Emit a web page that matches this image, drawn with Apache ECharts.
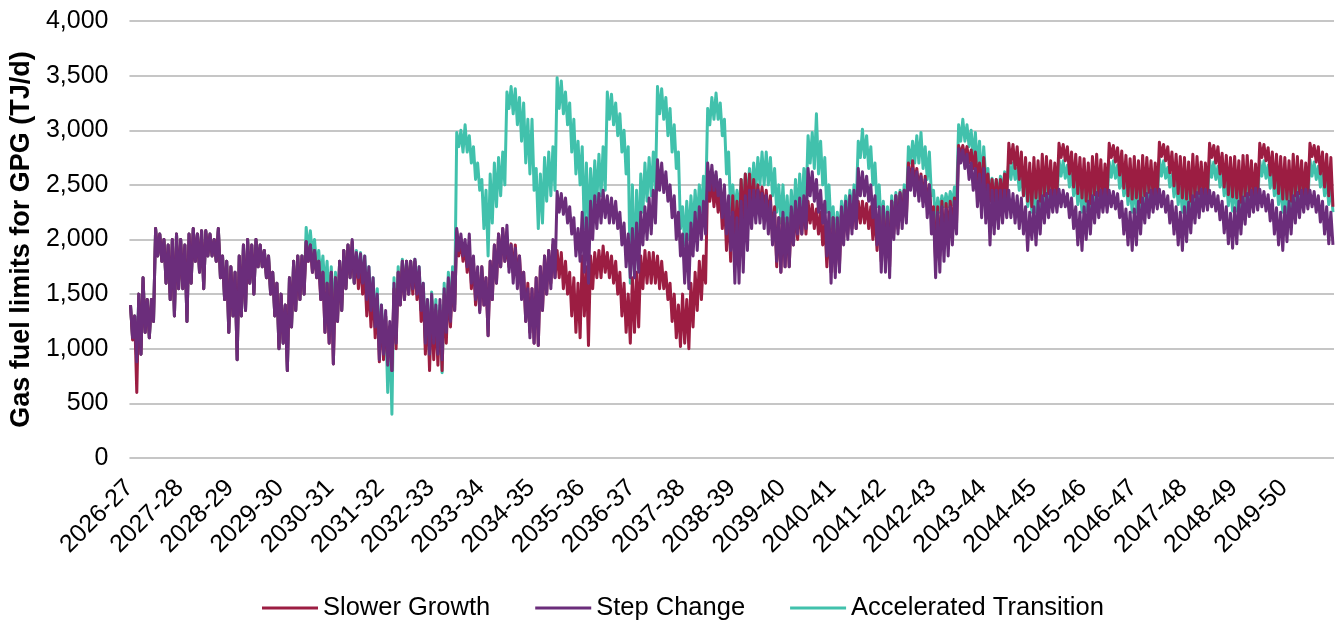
<!DOCTYPE html>
<html>
<head>
<meta charset="utf-8">
<script src="https://cdn.jsdelivr.net/npm/echarts@6/dist/echarts.min.js"></script>
<style>
  html, body { margin: 0; padding: 0; background: #ffffff; }
  #chart { width: 1341px; height: 621px; }
</style>
</head>
<body>
<div id="chart"></div>
<script>
// Financial-year tick labels (one per year, July to June)
const yearLabels = ['2026-27','2027-28','2028-29','2029-30','2030-31','2031-32','2032-33','2033-34',
  '2034-35','2035-36','2036-37','2037-38','2038-39','2039-40','2040-41','2041-42','2042-43','2043-44',
  '2044-45','2045-46','2046-47','2047-48','2048-49','2049-50'];

const seriesNames = ['Slower Growth', 'Step Change', 'Accelerated Transition'];

// Monthly upper / lower bounds of the daily gas fuel limits (TJ/d), 12 values per financial year.
const slowerHigh = [
  1400,1300,1500,1650,1450,1450,2100,2050,2000,1950,2000,2050,
  2000,1950,2050,2100,2050,2080,2080,2050,2000,2100,1850,1800,
  1750,1700,1850,1950,2000,1950,2000,1950,1900,1850,1700,1600,
  1500,1400,1650,1800,1850,1850,1980,1950,1900,1800,1700,1600,
  1700,1650,1800,1900,1950,1980,1850,1800,1700,1600,1550,1450,
  1350,1300,1200,1550,1700,1800,1800,1800,1800,1700,1550,1400,
  1450,1350,1350,1500,1600,1650,2080,2000,1950,1900,1800,1700,
  1750,1650,1800,1950,2050,2100,1950,1960,1950,1850,1700,1600,
  1550,1650,1750,1850,1900,1950,1900,1880,1800,1700,1650,1600,
  1850,1750,1850,1880,1900,1940,1880,1850,1800,1700,1600,1500,
  1650,1700,1850,1900,1880,1880,1850,1800,1700,1600,1500,1400,
  1500,1450,1600,1700,1800,1850,2570,2550,2500,2450,2400,2300,
  2400,2350,2550,2600,2600,2550,2500,2480,2450,2400,2300,2200,
  2200,2150,2250,2300,2300,2350,2350,2320,2280,2250,2150,2100,
  2200,2150,2250,2300,2330,2350,2350,2350,2330,2300,2250,2200,
  2300,2250,2350,2400,2430,2450,2700,2720,2650,2600,2580,2500,
  2300,2300,2350,2330,2350,2380,2860,2860,2850,2820,2800,2700,
  2750,2600,2550,2550,2550,2600,2880,2870,2850,2800,2750,2700,
  2750,2720,2780,2760,2720,2700,2880,2870,2850,2800,2780,2750,
  2740,2700,2760,2780,2730,2690,2880,2860,2840,2810,2770,2740,
  2760,2720,2770,2750,2720,2700,2890,2870,2850,2800,2780,2760,
  2750,2710,2780,2760,2710,2700,2880,2860,2850,2790,2770,2750,
  2760,2720,2770,2770,2720,2690,2880,2870,2840,2800,2780,2760,
  2750,2720,2780,2760,2720,2700,2880,2860,2850,2800,2780,2750
];
const slowerLow = [
  1080, 600, 950,1150,1100,1250,1850,1800,1600,1450,1300,1550,
  1550,1250,1600,1800,1700,1550,1850,1850,1800,1650,1450,1150,
  1300, 900,1300,1350,1600,1500,1750,1750,1650,1500,1300,1000,
  1050, 800,1200,1350,1450,1500,1800,1700,1650,1450,1150,1050,
   860,1250,1350,1550,1650,1600,1550,1500,1300,1200,1100, 880,
   900, 880, 800,1000,1400,1450,1500,1500,1450,1250, 950, 800,
   900, 850, 800,1050,1200,1350,1850,1800,1700,1550,1400,1350,
  1400,1120,1450,1600,1750,1800,1750,1700,1650,1500,1250,1150,
  1050,1030,1350,1500,1600,1650,1650,1550,1500,1300,1150,1100,
  1300,1030,1550,1650,1650,1700,1650,1600,1500,1300,1150,1050,
  1150,1200,1550,1600,1600,1600,1550,1550,1450,1250,1100,1020,
  1050,1000,1200,1350,1450,1600,2350,2300,2250,2100,1900,1800,
  1950,1900,2100,2200,2250,2250,2300,2250,2200,2000,1750,1700,
  1750,1750,1950,2000,2050,2050,2150,2100,2050,1950,1750,1700,
  1700,1750,2000,2050,2100,2100,2150,2150,2100,2000,1900,1800,
  1800,1750,2050,2100,2200,2200,2500,2500,2450,2350,2300,2200,
  1800,1850,1950,2050,2100,2150,2780,2750,2700,2650,2550,2450,
  2450,2350,2300,2300,2350,2350,2700,2650,2550,2400,2350,2300,
  2380,2350,2400,2420,2380,2400,2750,2720,2600,2480,2420,2380,
  2350,2330,2410,2400,2370,2390,2750,2710,2590,2470,2400,2370,
  2380,2340,2400,2430,2390,2400,2760,2720,2610,2490,2420,2380,
  2370,2350,2390,2420,2380,2410,2750,2700,2600,2480,2410,2390,
  2380,2340,2400,2410,2380,2400,2750,2720,2590,2470,2420,2370,
  2370,2350,2400,2420,2390,2400,2760,2710,2600,2480,2400,2300
];

const stepHigh = [
  1400,1300,1500,1650,1450,1450,2100,2050,2000,1950,2000,2050,
  2000,1950,2050,2100,2050,2080,2080,2050,2000,2100,1850,1800,
  1750,1700,1850,1950,2000,1950,2000,1950,1900,1850,1700,1600,
  1500,1400,1650,1800,1850,1850,1980,1950,1900,1800,1700,1600,
  1700,1650,1800,1900,1950,2000,1880,1870,1850,1750,1650,1500,
  1400,1350,1250,1600,1700,1800,1800,1800,1820,1750,1600,1450,
  1500,1400,1450,1550,1650,1700,2100,2050,2000,2050,1850,1750,
  1750,1650,1800,1950,2050,2100,2130,1950,1920,1850,1700,1550,
  1550,1650,1750,1850,1900,2000,2440,2420,2380,2300,2200,2100,
  2250,2200,2350,2400,2420,2450,2400,2380,2350,2250,2150,2050,
  2100,2150,2250,2300,2380,2450,2730,2700,2620,2500,2400,2250,
  2050,2050,2150,2250,2300,2350,2700,2680,2620,2550,2500,2400,
  2250,2200,2350,2400,2450,2450,2450,2420,2400,2350,2250,2200,
  2250,2200,2300,2350,2380,2400,2650,2620,2550,2450,2350,2250,
  2200,2200,2300,2350,2400,2450,2650,2620,2580,2500,2400,2300,
  2300,2250,2350,2400,2420,2450,2660,2650,2620,2580,2550,2500,
  2250,2250,2300,2280,2300,2350,2830,2820,2780,2700,2650,2600,
  2650,2500,2450,2450,2450,2450,2450,2420,2400,2380,2300,2250,
  2300,2350,2400,2420,2450,2450,2460,2450,2420,2380,2300,2250,
  2300,2350,2400,2430,2450,2460,2450,2440,2420,2350,2280,2250,
  2280,2350,2380,2420,2450,2460,2460,2440,2400,2350,2300,2250,
  2300,2340,2400,2430,2460,2460,2450,2430,2400,2350,2300,2240,
  2290,2350,2390,2420,2450,2470,2460,2440,2410,2360,2290,2250,
  2300,2350,2400,2430,2450,2460,2450,2440,2400,2350,2300,2250
];
const stepLow = [
  1100, 880, 950,1150,1100,1250,1850,1800,1600,1450,1300,1550,
  1550,1250,1600,1800,1700,1550,1850,1850,1800,1650,1450,1150,
  1300, 900,1300,1350,1600,1500,1750,1750,1650,1500,1300,1000,
  1050, 800,1200,1350,1450,1500,1800,1700,1650,1450,1150,1050,
   860,1250,1350,1550,1650,1600,1650,1600,1450,1350,1200, 900,
   950, 850, 800,1050,1400,1450,1500,1550,1500,1350,1050, 950,
  1050, 950, 900,1150,1250,1350,1900,1850,1750,1600,1450,1330,
  1400,1120,1450,1600,1750,1800,1700,1600,1550,1450,1250,1100,
  1050,1030,1350,1500,1550,1650,2250,2230,2150,2050,1850,1800,
  1700,1600,2000,2100,2150,2200,2150,2150,2100,1950,1750,1650,
  1650,1700,1950,2000,2050,2150,2450,2430,2350,2200,2000,1850,
  1600,1550,1850,1900,2000,2050,2450,2450,2400,2200,2050,1900,
  1600,1600,1700,1900,2100,2150,2150,2100,2050,1950,1800,1700,
  1750,1750,1950,2050,2050,2100,2400,2350,2250,2150,1850,1600,
  1650,1700,1950,2000,2050,2100,2400,2400,2350,2200,1950,1700,
  1700,1650,2000,2050,2100,2150,2450,2400,2350,2300,2200,2050,
  1650,1700,1800,1850,1950,2050,2700,2650,2550,2450,2300,2200,
  2150,1950,2050,2100,2150,2200,2200,2150,2100,2050,1900,2000,
  1950,2050,2150,2200,2250,2250,2300,2300,2200,2100,1950,1900,
  2000,2050,2150,2200,2250,2250,2300,2280,2200,2050,1950,1900,
  1950,2050,2150,2200,2250,2280,2300,2250,2150,2050,1950,1900,
  1980,2060,2150,2200,2260,2270,2300,2260,2180,2060,1960,1920,
  1960,2050,2140,2210,2250,2270,2300,2260,2170,2050,1950,1900,
  1980,2050,2150,2200,2250,2280,2300,2250,2160,2050,1960,1950
];

const accelHigh = [
  1400,1300,1500,1650,1450,1450,2100,2050,2000,1950,2000,2050,
  2000,1950,2050,2100,2050,2080,2080,2050,2000,2100,1850,1800,
  1750,1700,1850,1950,2000,1950,2000,1950,1900,1850,1700,1600,
  1500,1400,1650,1800,1850,1850,2110,2080,2000,1900,1850,1800,
  1750,1700,1800,1900,1950,1930,1900,1880,1850,1750,1650,1550,
  1400,1300,1200,1650,1750,1820,1800,1800,1820,1750,1600,1450,
  1520,1450,1400,1600,1700,1750,2980,3000,3050,2950,2850,2700,
  2550,2450,2600,2700,2750,2800,3350,3400,3380,3300,3250,3100,
  3100,2650,2600,2750,2800,2850,3480,3450,3350,3250,3100,2900,
  2850,2700,2650,2720,2780,2850,3350,3330,3250,3150,3000,2850,
  2500,2450,2600,2700,2750,2800,3400,3380,3300,3200,3050,2800,
  2300,2350,2400,2450,2500,2580,3200,3300,3340,3250,3100,2800,
  2500,2450,2550,2600,2650,2700,2750,2800,2800,2750,2650,2500,
  2500,2400,2450,2550,2600,2650,2950,2980,3150,2900,2750,2500,
  2300,2250,2350,2400,2450,2500,2900,3010,2950,2850,2700,2500,
  2350,2300,2400,2430,2450,2500,2850,2900,2950,2980,2850,2800,
  2450,2380,2400,2420,2440,2480,3050,3100,3050,3000,2980,2900,
  2850,2650,2560,2550,2580,2620,2720,2700,2650,2600,2550,2500,
  2520,2500,2520,2540,2550,2580,2730,2720,2680,2620,2560,2500,
  2500,2520,2500,2520,2550,2560,2710,2720,2680,2600,2550,2500,
  2520,2500,2520,2540,2550,2580,2740,2720,2660,2600,2550,2480,
  2510,2500,2530,2540,2560,2570,2730,2710,2670,2610,2560,2500,
  2520,2490,2520,2550,2550,2580,2720,2720,2680,2620,2550,2490,
  2500,2500,2520,2540,2550,2570,2730,2710,2670,2610,2560,2500
];
const accelLow = [
  1100, 880, 950,1150,1100,1250,1850,1800,1600,1450,1300,1550,
  1550,1250,1600,1800,1700,1550,1850,1850,1800,1650,1450,1150,
  1300, 900,1300,1350,1600,1500,1750,1750,1650,1500,1300,1000,
  1050, 800,1200,1350,1450,1500,1900,1850,1750,1650,1550,1400,
  1300,1300,1350,1550,1650,1600,1650,1600,1450,1350,1200,1000,
  1000, 600, 400,1100,1450,1500,1500,1550,1500,1350,1100, 900,
  1050, 950, 780,1150,1300,1400,2850,2800,2800,2700,2550,2450,
  2100,1850,2150,2300,2400,2500,3200,3150,3050,2900,2700,2600,
  2450,2100,2150,2350,2400,2450,3200,3150,3050,2800,2600,2500,
  2100,2050,2250,2350,2400,2450,3100,3050,2950,2800,2600,1600,
  1650,1900,2250,2350,2400,2450,3150,3100,2950,2800,2650,2100,
  1950,2000,2100,2150,2250,2300,3050,3100,3100,2950,2600,2250,
  2250,2250,2300,2350,2400,2450,2500,2500,2500,2400,2250,2150,
  2100,2050,2150,2200,2250,2300,2700,2650,2600,2500,2250,2100,
  1950,2000,2150,2200,2250,2300,2750,2750,2650,2500,2300,2100,
  2050,2000,2150,2200,2250,2300,2700,2700,2700,2650,2550,2400,
  2150,2250,2300,2300,2320,2350,2900,2900,2850,2750,2650,2500,
  2550,2400,2400,2400,2420,2450,2550,2550,2450,2400,2300,2250,
  2250,2250,2300,2320,2330,2350,2580,2560,2480,2400,2320,2250,
  2260,2270,2300,2320,2320,2350,2570,2560,2470,2400,2320,2250,
  2250,2260,2300,2320,2330,2360,2580,2560,2480,2390,2320,2250,
  2250,2250,2310,2320,2340,2350,2570,2550,2480,2400,2310,2260,
  2260,2250,2300,2330,2330,2350,2580,2560,2470,2400,2320,2250,
  2250,2260,2300,2320,2330,2350,2580,2550,2480,2400,2320,2250
];

// Each month contributes its high then its low, placed within the month on a year-based x scale.
function trace(high, low) {
  const pts = [];
  for (let m = 0; m < high.length; m++) {
    pts.push([(m + 0.25) / 12, high[m]]);
    pts.push([(m + 0.75) / 12, low[m]]);
  }
  return pts;
}

const colors = ['#9c1d42', '#6b2d7b', '#41c1ac'];
const fontFamily = '"Liberation Sans", Arial, sans-serif';

const chart = echarts.init(document.getElementById('chart'), null, { renderer: 'canvas' });

function lineSeries(name, data, color, z) {
  return {
    name: name,
    type: 'line',
    data: data,
    z: z,
    showSymbol: false,
    symbol: 'none',
    sampling: null,
    animation: false,
    lineStyle: { color: color, width: 3, join: 'round' },
    itemStyle: { color: color }
  };
}

chart.setOption({
  animation: false,
  textStyle: { fontFamily: fontFamily },
  grid: { left: 128, right: 7, top: 21, bottom: 163, containLabel: false },
  legend: {
    data: seriesNames,
    left: 262,
    top: 595,
    padding: 0,
    icon: 'rect',
    itemWidth: 56,
    itemHeight: 3,
    itemGap: 45,
    textStyle: { fontSize: 25.5, color: '#000000', fontFamily: fontFamily }
  },
  xAxis: {
    type: 'value',
    min: 0,
    max: yearLabels.length,
    interval: 1,
    axisLine: { show: false },
    axisTick: { show: false },
    splitLine: { show: false },
    axisLabel: {
      rotate: 45,
      margin: 26,
      fontSize: 25,
      color: '#000000',
      fontFamily: fontFamily,
      showMaxLabel: false,
      formatter: function (v) { return yearLabels[v] || ''; }
    }
  },
  yAxis: {
    type: 'value',
    min: 0,
    max: 4000,
    interval: 500,
    name: 'Gas fuel limits for GPG (TJ/d)',
    nameLocation: 'middle',
    nameRotate: 90,
    nameGap: 92,
    nameTextStyle: { fontSize: 27, fontWeight: 'bold', color: '#000000', fontFamily: fontFamily },
    axisLine: { show: false },
    axisTick: { show: false },
    axisLabel: {
      margin: 21,
      fontSize: 25,
      color: '#000000',
      fontFamily: fontFamily,
      formatter: function (v) { return v.toLocaleString('en-US'); }
    },
    splitLine: { lineStyle: { color: '#c6c6c6', width: 2 } }
  },
  series: [
    lineSeries(seriesNames[0], trace(slowerHigh, slowerLow), colors[0], 3),
    lineSeries(seriesNames[1], trace(stepHigh, stepLow), colors[1], 4),
    lineSeries(seriesNames[2], trace(accelHigh, accelLow), colors[2], 2)
  ]
});
</script>
</body>
</html>
